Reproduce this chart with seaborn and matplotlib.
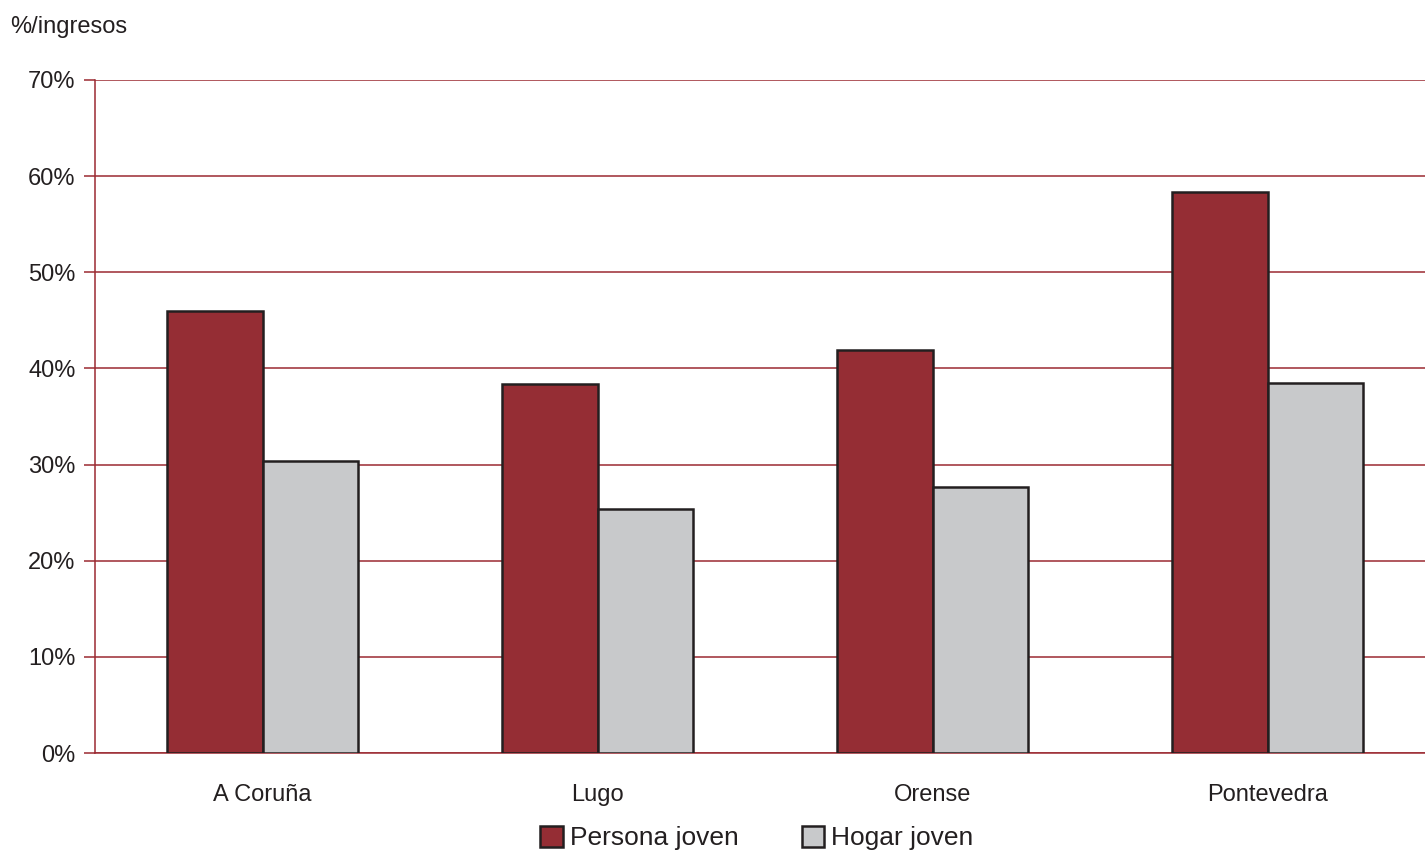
import pandas as pd
import matplotlib.pyplot as plt
import seaborn as sns
from matplotlib.patches import Patch
from matplotlib.ticker import FuncFormatter

# datos (lectura aproximada del gráfico)
provincias = ['A Coruña', 'Lugo', 'Orense', 'Pontevedra']
persona_joven = [46.0, 38.4, 41.9, 58.4]
hogar_joven = [30.4, 25.4, 27.7, 38.5]
series = ['Persona joven', 'Hogar joven']

df = pd.DataFrame({
    'provincia': provincias * 2,
    'serie': [series[0]] * 4 + [series[1]] * 4,
    'valor': persona_joven + hogar_joven,
})

RED = '#952d34'
GREY = '#c8c9cb'
EDGE = '#231f20'
GRID = '#9b2a32'
TXT = '#231f20'

sns.set_theme(style="white")
plt.rcParams['font.family'] = ['Liberation Sans', 'DejaVu Sans']

fig = plt.figure(figsize=(14.25, 8.56), dpi=100)
ax = fig.add_axes([95 / 1425, 1 - 753 / 856, 1 - 95 / 1425, (753 - 80) / 856])

sns.barplot(data=df, x='provincia', y='valor', hue='serie', hue_order=series,
            palette=[RED, GREY], width=0.57, edgecolor=EDGE, linewidth=1.8,
            saturation=1, ax=ax, legend=False, zorder=3)

ax.set_ylim(0, 70)
ax.set_xlim(-0.5, 3.47)
ax.set_yticks(range(0, 71, 10))
ax.yaxis.set_major_formatter(FuncFormatter(lambda v, p: f'{int(v)}%'))
ax.yaxis.grid(True, color=GRID, linewidth=1.1, zorder=0)
ax.set_axisbelow(True)
ax.set_xlabel('')
ax.set_ylabel('')

for side in ['top', 'right']:
    ax.spines[side].set_visible(False)
for side in ['left', 'bottom']:
    ax.spines[side].set_color(GRID)
    ax.spines[side].set_linewidth(1.1)

ax.tick_params(axis='y', length=8, width=1.1, color=GRID, labelsize=17,
               labelcolor=TXT, left=True, pad=6)
ax.tick_params(axis='x', length=0, labelsize=17, labelcolor=TXT, pad=22)

fig.text(0.007, 1 - 27 / 856, '%/ingresos', ha='left', va='center',
         fontsize=17, color=TXT)

handles = [Patch(facecolor=RED, edgecolor=EDGE, linewidth=1.8, label=series[0]),
           Patch(facecolor=GREY, edgecolor=EDGE, linewidth=1.8, label=series[1])]
fig.legend(handles=handles, loc='center', bbox_to_anchor=(0.531, 1 - 838 / 856),
           ncol=2, frameon=False, fontsize=19, handlelength=0.85, handleheight=0.85,
           handletextpad=0.25, columnspacing=2.4, labelcolor=TXT, borderpad=0)

plt.savefig('out.png', dpi=100)
